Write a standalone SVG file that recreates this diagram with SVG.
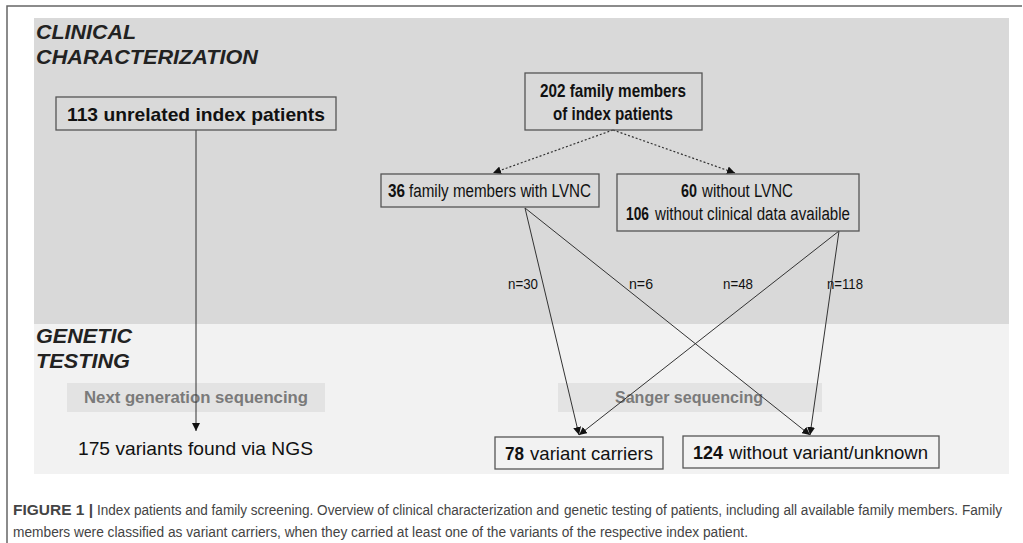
<svg xmlns="http://www.w3.org/2000/svg" width="1023" height="543" viewBox="0 0 1023 543">
<defs>
<marker id="ah" viewBox="0 0 10 10" refX="10" refY="5" markerWidth="8" markerHeight="8" orient="auto" markerUnits="userSpaceOnUse"><path d="M0,0 L10,5 L0,10 z" fill="#111"/></marker>
</defs>
<style>
.box{fill:none;stroke:#555;stroke-width:1.3}
.b{font-family:"Liberation Sans",Arial,sans-serif;font-weight:bold;fill:#111}
.r{font-family:"Liberation Sans",Arial,sans-serif;fill:#111}
.sec{font-family:"Liberation Sans",Arial,sans-serif;font-weight:bold;font-style:italic;font-size:21px;fill:#222}
.band{fill:#e3e3e3}
.bandt{font-family:"Liberation Sans",Arial,sans-serif;font-weight:bold;font-size:16px;fill:#7a7a7a}
.ln{stroke:#333;stroke-width:1;fill:none;marker-end:url(#ah)}
.dt{stroke:#333;stroke-width:1.2;fill:none;stroke-dasharray:2 2;marker-end:url(#ah)}
.lab{font-family:"Liberation Sans",Arial,sans-serif;font-size:15px;fill:#111}
.cap{font-family:"Liberation Sans",Arial,sans-serif;font-size:14px;fill:#444}
</style>
<rect width="1023" height="543" fill="#fff"/>
<path d="M7,543 V6 H1022" fill="none" stroke="#666" stroke-width="1.5"/>
<rect x="34" y="18" width="975" height="306" fill="#d9d9d9"/>
<rect x="34" y="324" width="975" height="150" fill="#f2f2f2"/>
<text class="sec" x="36" y="39" textLength="100" lengthAdjust="spacingAndGlyphs">CLINICAL</text>
<text class="sec" x="36" y="64" textLength="222" lengthAdjust="spacingAndGlyphs">CHARACTERIZATION</text>
<text class="sec" x="36" y="343" textLength="96" lengthAdjust="spacingAndGlyphs">GENETIC</text>
<text class="sec" x="36" y="368" textLength="94" lengthAdjust="spacingAndGlyphs">TESTING</text>
<rect class="band" x="67" y="383" width="258" height="29"/>
<text class="bandt" x="84" y="403" textLength="224" lengthAdjust="spacingAndGlyphs">Next generation sequencing</text>
<rect class="band" x="558" y="383" width="264" height="29"/>
<text class="bandt" x="615" y="403" textLength="148" lengthAdjust="spacingAndGlyphs">Sanger sequencing</text>
<g id="connectors">
<line class="ln" x1="196" y1="130" x2="196" y2="431"/>
<line class="dt" x1="613" y1="130" x2="493" y2="173"/>
<line class="dt" x1="613" y1="130" x2="735" y2="173"/>
<line class="ln" x1="525" y1="208" x2="579" y2="435"/>
<line class="ln" x1="525" y1="208" x2="810" y2="435"/>
<line class="ln" x1="839" y1="231" x2="579" y2="435"/>
<line class="ln" x1="839" y1="231" x2="810" y2="435"/>
<text class="lab" x="508" y="289" textLength="30" lengthAdjust="spacingAndGlyphs">n=30</text>
<text class="lab" x="629" y="289" textLength="24" lengthAdjust="spacingAndGlyphs">n=6</text>
<text class="lab" x="723" y="289" textLength="30" lengthAdjust="spacingAndGlyphs">n=48</text>
<text class="lab" x="827" y="289" textLength="36" lengthAdjust="spacingAndGlyphs">n=118</text>
</g>
<g id="n113">
<rect class="box" x="56" y="97" width="280" height="33"/>
<text class="b" x="67" y="121" font-size="19" textLength="258" lengthAdjust="spacingAndGlyphs">113 unrelated index patients</text>
</g>
<g id="n202">
<rect class="box" x="525" y="73" width="177" height="57"/>
<text class="b" x="540" y="97" font-size="19" textLength="146" lengthAdjust="spacingAndGlyphs">202 family members</text>
<text class="b" x="553" y="120" font-size="19" textLength="120" lengthAdjust="spacingAndGlyphs">of index patients</text>
</g>
<g id="n36">
<rect class="box" x="381" y="174" width="218" height="33"/>
<text class="b" x="388" y="197" font-size="18" textLength="17" lengthAdjust="spacingAndGlyphs">36</text>
<text class="r" x="409" y="197" font-size="18" textLength="182" lengthAdjust="spacingAndGlyphs">family members with LVNC</text>
</g>
<g id="n60">
<rect class="box" x="617" y="174" width="242" height="57"/>
<text class="b" x="681" y="197" font-size="18" textLength="16" lengthAdjust="spacingAndGlyphs">60</text>
<text class="r" x="702" y="197" font-size="18" textLength="91" lengthAdjust="spacingAndGlyphs">without LVNC</text>
<text class="b" x="626" y="220" font-size="18" textLength="23" lengthAdjust="spacingAndGlyphs">106</text>
<text class="r" x="655" y="220" font-size="18" textLength="195" lengthAdjust="spacingAndGlyphs">without clinical data available</text>
</g>
<g id="n175">
<text class="r" x="78" y="455" font-size="19" textLength="235" lengthAdjust="spacingAndGlyphs">175 variants found via NGS</text>
</g>
<g id="n78">
<rect class="box" x="495" y="437" width="168" height="32"/>
<text class="b" x="505" y="460" font-size="19" textLength="19" lengthAdjust="spacingAndGlyphs">78</text>
<text class="r" x="530" y="460" font-size="19" textLength="123" lengthAdjust="spacingAndGlyphs">variant carriers</text>
</g>
<g id="n124">
<rect class="box" x="683" y="436" width="256" height="32"/>
<text class="b" x="693" y="459" font-size="19" textLength="30" lengthAdjust="spacingAndGlyphs">124</text>
<text class="r" x="729" y="459" font-size="19" textLength="199" lengthAdjust="spacingAndGlyphs">without variant/unknown</text>
</g>
<text class="cap" x="13" y="515" font-weight="bold" fill="#222" textLength="80" lengthAdjust="spacingAndGlyphs">FIGURE 1 |</text>
<text class="cap" x="97" y="515" textLength="462" lengthAdjust="spacingAndGlyphs">Index patients and family screening. Overview of clinical characterization and</text>
<text class="cap" x="564" y="515" textLength="438" lengthAdjust="spacingAndGlyphs">genetic testing of patients, including all available family members. Family</text>
<text class="cap" x="13" y="537" textLength="735" lengthAdjust="spacingAndGlyphs">members were classified as variant carriers, when they carried at least one of the variants of the respective index patient.</text>
</svg>
